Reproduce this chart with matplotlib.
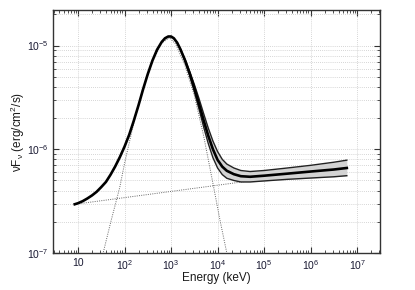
import matplotlib
matplotlib.use("Agg")
import matplotlib.pyplot as plt
from matplotlib.ticker import FixedLocator, FuncFormatter, NullFormatter
import numpy as np

plt.rcParams['font.family'] = ['Liberation Sans', 'DejaVu Sans']
plt.rcParams['mathtext.fontset'] = 'custom'
plt.rcParams['mathtext.rm'] = 'Liberation Sans'
plt.rcParams['mathtext.it'] = 'Liberation Sans:italic'

# Total model curve (keV, erg/cm^2/s)
total_e = [8.5, 10, 12.6, 15.8, 20, 25.1, 31.6, 39.8, 50.1, 63.1, 79.4, 100, 126, 158, 200, 251,
           316, 398, 501, 631, 741, 871, 1000, 1148, 1349, 1585, 1995, 2512, 3162, 3981, 5012,
           6310, 7943, 1.0e4, 1.26e4, 1.58e4, 2.24e4, 3.16e4, 5.0e4, 1.0e5, 3.16e5, 1.0e6,
           3.16e6, 6.0e6]
total_f = [2.95e-7, 3.02e-7, 3.16e-7, 3.35e-7, 3.59e-7, 3.89e-7, 4.32e-7, 4.84e-7, 5.69e-7,
           6.84e-7, 8.41e-7, 1.06e-6, 1.38e-6, 1.88e-6, 2.66e-6, 3.80e-6, 5.31e-6, 7.16e-6,
           9.12e-6, 1.084e-5, 1.175e-5, 1.222e-5, 1.222e-5, 1.175e-5, 1.067e-5, 9.23e-6, 7.2e-6,
           5.4e-6, 3.9e-6, 2.75e-6, 1.9e-6, 1.35e-6, 1.0e-6, 7.9e-7, 6.8e-7, 6.2e-7, 5.75e-7,
           5.5e-7, 5.43e-7, 5.56e-7, 5.82e-7, 6.1e-7, 6.38e-7, 6.6e-7]

# Uncertainty band
band_e = [1585, 1995, 2512, 3162, 3981, 5012, 6310, 7943, 1.0e4, 1.26e4, 1.58e4, 2.24e4, 3.16e4,
          5.0e4, 1.0e5, 3.16e5, 1.0e6, 3.16e6, 6.0e6]
band_hi = [9.23e-6, 7.41e-6, 5.62e-6, 4.22e-6, 3.09e-6, 2.21e-6, 1.60e-6, 1.20e-6, 9.5e-7, 8.0e-7,
           7.2e-7, 6.6e-7, 6.24e-7, 6.1e-7, 6.24e-7, 6.6e-7, 7.0e-7, 7.5e-7, 7.85e-7]
band_lo = [9.23e-6, 7.08e-6, 5.13e-6, 3.59e-6, 2.45e-6, 1.64e-6, 1.135e-6, 8.3e-7, 6.6e-7, 5.7e-7,
           5.25e-7, 5.0e-7, 4.84e-7, 4.84e-7, 4.95e-7, 5.13e-7, 5.28e-7, 5.43e-7, 5.56e-7]

# Peaked component (dotted)
peak_e = [31.6, 34.7, 50, 79, 100, 158, 251, 398, 631, 933, 1259, 1995, 3162, 5012, 7943,
          1.12e4, 1.58e4, 1.78e4]
peak_f = [8e-8, 1.0e-7, 1.95e-7, 4.3e-7, 7.3e-7, 1.79e-6, 3.9e-6, 7.0e-6, 1.06e-5, 1.19e-5,
          1.03e-5, 6.4e-6, 3.3e-6, 1.35e-6, 4.7e-7, 2.1e-7, 1.0e-7, 8e-8]

# Power-law component (dotted)
pl_e = [8.5, 6.0e6]
pl_f = [2.95e-7, 6.6e-7]

x_major = [10, 100, 1e3, 1e4, 1e5, 1e6, 1e7]
y_major = [1e-7, 1e-6, 1e-5]

fig = plt.figure(figsize=(4.15, 2.9), dpi=100)
ax = fig.add_axes([53/415, 37/290, 327/415, 243/290])
ax.set_xscale('log')
ax.set_yscale('log')
ax.set_xlim(2.9, 3.1e7)
ax.set_ylim(1e-7, 2.2e-5)

ax.fill_between(band_e, band_lo, band_hi, color='#d3d3d3', lw=0, zorder=2)
ax.plot(band_e, band_hi, color='#222222', lw=1.0, zorder=3)
ax.plot(band_e, band_lo, color='#222222', lw=1.0, zorder=3)
ax.plot(peak_e, peak_f, color='#666666', lw=0.7, ls=(0, (1, 1.3)), zorder=1)
ax.plot(pl_e, pl_f, color='#666666', lw=0.7, ls=(0, (1, 1.3)), zorder=1)
ax.plot(total_e, total_f, color='black', lw=1.9, zorder=4, solid_joinstyle='round')

x_minor = [m * 10.0**k for k in range(0, 8) for m in range(2, 10)]
y_minor = [m * 10.0**k for k in range(-8, -4) for m in range(2, 10)]
ax.xaxis.set_major_locator(FixedLocator(x_major))
ax.xaxis.set_minor_locator(FixedLocator(x_minor))
ax.yaxis.set_major_locator(FixedLocator(y_major))
ax.yaxis.set_minor_locator(FixedLocator(y_minor))

def xfmt(v, pos):
    n = int(round(np.log10(v)))
    if n == 1:
        return '10'
    return r'10$^{%d}$' % n

def yfmt(v, pos):
    n = int(round(np.log10(v)))
    return r'10$^{%d}$' % n

ax.xaxis.set_major_formatter(FuncFormatter(xfmt))
ax.yaxis.set_major_formatter(FuncFormatter(yfmt))
ax.xaxis.set_minor_formatter(NullFormatter())
ax.yaxis.set_minor_formatter(NullFormatter())

ax.tick_params(which='both', direction='in', top=True, right=True, colors='#333333',
               labelcolor='#1a1a33', labelsize=7.5)
ax.tick_params(which='major', length=4, width=0.8)
ax.tick_params(which='minor', length=2, width=0.6)
ax.tick_params(axis='x', pad=3.5)

ax.grid(True, axis='x', which='major', color='#c8c8c8', ls=(0, (1, 1.5)), lw=0.6)
ax.grid(True, axis='y', which='both', color='#c8c8c8', ls=(0, (1, 1.5)), lw=0.6)
ax.set_axisbelow(True)

for s in ax.spines.values():
    s.set_color('#333333')
    s.set_linewidth(1.0)

ax.set_xlabel('Energy (keV)', fontsize=8.5, color='#1a1a1a', va='top')
ax.xaxis.set_label_coords(0.5, -0.08)
ax.set_ylabel('νF$_\\mathregular{ν}$ (erg/cm$^\\mathregular{2}$/s)', fontsize=8.5,
              color='#1a1a1a')
ax.yaxis.set_label_coords(-0.08, 0.5)

fig.savefig('out.png', dpi=100, facecolor='white')
